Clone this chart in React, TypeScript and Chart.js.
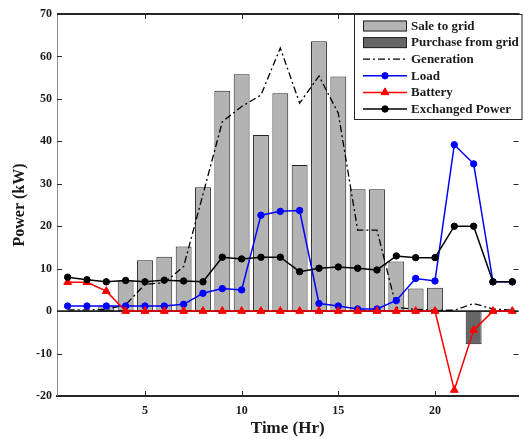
import React, { useEffect, useRef } from "react";
import { Chart, registerables } from "chart.js";

Chart.register(...registerables);

const hours = [1, 2, 3, 4, 5, 6, 7, 8, 9, 10, 11, 12, 13, 14, 15, 16, 17, 18, 19, 20, 21, 22, 23, 24];
const saleToGrid = [null, null, 1.3, 7.2, 12.0, 12.8, 15.2, 29.2, 51.9, 55.8, 41.5, 51.3, 34.4, 63.6, 55.3, 28.7, 28.7, 11.7, 5.3, 5.5, null, null, null, null];
const purchaseFromGrid = [null, null, null, null, null, null, null, null, null, null, null, null, null, null, null, null, null, null, null, null, null, -7.8, null, null];
const generation = [0.3, 0.3, 0.4, 1.5, 6.3, 6.7, 10.5, 27.5, 44.6, 48.2, 50.9, 62.0, 49.0, 55.4, 46.6, 19.1, 19.1, 0.9, 0.4, 0.2, 0.2, 1.8, 0.5, 0.2];
const load = [1.2, 1.2, 1.2, 1.2, 1.2, 1.2, 1.6, 4.2, 5.3, 5.0, 22.6, 23.5, 23.7, 1.8, 1.2, 0.5, 0.5, 2.5, 7.7, 7.1, 39.2, 34.7, 6.9, 6.9];
const battery = [6.8, 6.8, 4.7, 0, 0, 0, 0, 0, 0, 0, 0, 0, 0, 0, 0, 0, 0, 0, 0, 0, -18.6, -4.5, 0, 0];
const exchanged = [8.0, 7.4, 6.9, 7.2, 6.9, 7.3, 7.1, 6.9, 12.7, 12.3, 12.7, 12.7, 9.3, 10.1, 10.4, 10.1, 9.7, 13.0, 12.6, 12.6, 20.0, 20.0, 6.9, 6.9];
const xTicks = [5, 10, 15, 20];
const legendLabels = ["Sale to grid", "Purchase from grid", "Generation", "Load", "Battery", "Exchanged Power"];

const FONT = "'Liberation Serif', 'Times New Roman', serif";
const INK = "#1a1a1a";
const DASHDOT = [7, 3, 2, 3];

const pts = (arr: (number | null)[]) => hours.map((h, i) => ({ x: h, y: arr[i] }));

function drawTri(ctx: CanvasRenderingContext2D, x: number, y: number, r: number, color: string) {
  ctx.beginPath();
  ctx.moveTo(x, y - r);
  ctx.lineTo(x + 0.866 * r, y + 0.5 * r);
  ctx.lineTo(x - 0.866 * r, y + 0.5 * r);
  ctx.closePath();
  ctx.fillStyle = color;
  ctx.fill();
  ctx.strokeStyle = color;
  ctx.lineWidth = 1;
  ctx.stroke();
}

function drawCircle(ctx: CanvasRenderingContext2D, x: number, y: number, r: number, color: string) {
  ctx.beginPath();
  ctx.arc(x, y, r, 0, Math.PI * 2);
  ctx.fillStyle = color;
  ctx.fill();
  ctx.strokeStyle = color;
  ctx.lineWidth = 1;
  ctx.stroke();
}

const decor = {
  id: "decor",
  afterDatasetDraw(chart: any, args: any) {
    if (args.index !== 1) return;
    const { ctx, chartArea } = chart;
    const y0 = chart.scales.y.getPixelForValue(0);
    ctx.save();
    ctx.strokeStyle = "#222";
    ctx.lineWidth = 1.6;
    ctx.beginPath();
    ctx.moveTo(chartArea.left, y0);
    ctx.lineTo(chartArea.right, y0);
    ctx.stroke();
    ctx.restore();
  },
  afterDraw(chart: any) {
    const { ctx, chartArea } = chart;
    const { left, right, top, bottom } = chartArea;
    const xs = chart.scales.x;
    const ys = chart.scales.y;
    ctx.save();
    // top border
    ctx.strokeStyle = "#262626";
    ctx.lineWidth = 2;
    ctx.beginPath();
    ctx.moveTo(left, top);
    ctx.lineTo(right + 1, top);
    ctx.stroke();
    // tick marks (inside)
    ctx.lineWidth = 1;
    ctx.strokeStyle = "#262626";
    const tl = 5;
    xTicks.forEach((v) => {
      const px = Math.round(xs.getPixelForValue(v)) + 0.5;
      ctx.beginPath();
      ctx.moveTo(px, bottom);
      ctx.lineTo(px, bottom - tl);
      ctx.moveTo(px, top);
      ctx.lineTo(px, top + tl);
      ctx.stroke();
    });
    ys.ticks.forEach((t: any) => {
      const py = Math.round(ys.getPixelForValue(t.value)) + 0.5;
      ctx.beginPath();
      ctx.moveTo(left, py);
      ctx.lineTo(left + tl, py);
      ctx.moveTo(right, py);
      ctx.lineTo(right - tl, py);
      ctx.stroke();
    });
    // legend
    const bx = 354.5, by = top, bw = 167.5, bh = 105;
    ctx.fillStyle = "#ffffff";
    ctx.fillRect(bx, by, bw, bh);
    ctx.strokeStyle = "#262626";
    ctx.lineWidth = 1;
    ctx.strokeRect(bx, by + 0.5, bw, bh);
    const x1 = 363, x2 = 407, xm = (x1 + x2) / 2;
    const rowY = (i: number) => 26 + i * 16.6;
    [["#b3b3b3", 0], ["#666666", 1]].forEach(([c, i]: any) => {
      const cy = rowY(i);
      ctx.fillStyle = c;
      ctx.fillRect(x1, cy - 5.5, x2 - x1, 11);
      ctx.strokeStyle = "#222";
      ctx.strokeRect(x1 + 0.5, cy - 5.5 + 0.5, x2 - x1 - 1, 10);
    });
    ctx.setLineDash(DASHDOT);
    ctx.strokeStyle = "#000";
    ctx.lineWidth = 1.3;
    ctx.beginPath();
    ctx.moveTo(x1, rowY(2));
    ctx.lineTo(x2, rowY(2));
    ctx.stroke();
    ctx.setLineDash([]);
    const lineRow = (i: number, color: string, marker: string) => {
      ctx.strokeStyle = color;
      ctx.lineWidth = 1.5;
      ctx.beginPath();
      ctx.moveTo(x1, rowY(i));
      ctx.lineTo(x2, rowY(i));
      ctx.stroke();
      if (marker === "circle") drawCircle(ctx, xm, rowY(i), 3.2, color);
      else drawTri(ctx, xm, rowY(i), 4.5, color);
    };
    lineRow(3, "#0000ff", "circle");
    lineRow(4, "#ff0000", "tri");
    lineRow(5, "#000000", "circle");
    ctx.fillStyle = INK;
    ctx.font = `bold 13px ${FONT}`;
    ctx.textBaseline = "middle";
    ctx.textAlign = "left";
    legendLabels.forEach((lab, i) => ctx.fillText(lab, 411, rowY(i) + 0.5));
    ctx.restore();
  },
};

export default function App() {
  const ref = useRef<HTMLCanvasElement | null>(null);
  useEffect(() => {
    if (!ref.current) return;
    const barCommon = {
      type: "bar" as const,
      grouped: false,
      borderWidth: 1,
      borderColor: "#222",
      borderSkipped: false,
      categoryPercentage: 1,
      barPercentage: 0.82,
    };
    const chart = new Chart(ref.current, {
      type: "bar",
      data: {
        datasets: [
          { ...barCommon, label: legendLabels[0], data: pts(saleToGrid), backgroundColor: "#b3b3b3", order: 6 },
          { ...barCommon, label: legendLabels[1], data: pts(purchaseFromGrid), backgroundColor: "#666666", order: 5 },
          {
            type: "line", label: legendLabels[2], data: pts(generation), borderColor: "#000", borderWidth: 1.3,
            borderDash: DASHDOT, pointRadius: 0, tension: 0, order: 4, fill: false,
          },
          {
            type: "line", label: legendLabels[3], data: pts(load), borderColor: "#0000ff", backgroundColor: "#0000ff",
            borderWidth: 1.5, pointRadius: 3.2, pointBorderWidth: 1, pointStyle: "circle", tension: 0, order: 3, fill: false,
          },
          {
            type: "line", label: legendLabels[4], data: pts(battery), borderColor: "#ff0000", backgroundColor: "#ff0000",
            borderWidth: 1.5, pointRadius: 4.5, pointBorderWidth: 1, pointStyle: "triangle", tension: 0, order: 2, fill: false,
          },
          {
            type: "line", label: legendLabels[5], data: pts(exchanged), borderColor: "#000000", backgroundColor: "#000000",
            borderWidth: 1.5, pointRadius: 3.2, pointBorderWidth: 1, pointStyle: "circle", tension: 0, order: 1, fill: false,
          },
        ] as any,
      },
      options: {
        responsive: false,
        animation: false,
        devicePixelRatio: 1,
        layout: { padding: { left: 0, right: 1, top: 14, bottom: 0 } },
        plugins: { legend: { display: false }, tooltip: { enabled: false } },
        scales: {
          x: {
            type: "linear",
            min: 0.45,
            max: 24.32,
            offset: false,
            afterBuildTicks: (s: any) => {
              s.ticks = xTicks.map((v) => ({ value: v }));
            },
            afterFit: (s: any) => {
              s.height = 43;
            },
            grid: { display: false, drawTicks: false },
            border: { display: true, color: "#262626", width: 2 },
            ticks: { font: { family: FONT, size: 12, weight: "bold" }, color: INK, padding: 8, maxRotation: 0 },
            title: {
              display: true, text: "Time (Hr)", color: INK,
              font: { family: FONT, size: 17, weight: "bold" }, padding: { top: 0, bottom: 0 },
            },
          },
          y: {
            type: "linear",
            min: -20,
            max: 70,
            afterFit: (s: any) => {
              s.width = 57;
            },
            grid: { display: false, drawTicks: false },
            border: { display: true, color: "#8c8c8c", width: 1 },
            ticks: { stepSize: 10, font: { family: FONT, size: 12, weight: "bold" }, color: INK, padding: 5 },
            title: {
              display: true, text: "Power (kW)", color: INK,
              font: { family: FONT, size: 16, weight: "bold" }, padding: { top: 10, bottom: 0 },
            },
          },
        },
      } as any,
      plugins: [decor],
    });
    return () => chart.destroy();
  }, []);
  return (
    <div style={{ position: "absolute", left: 0, top: 0, width: 524, height: 439, background: "#fff" }}>
      <canvas ref={ref} width={524} height={439} style={{ display: "block" }} />
    </div>
  );
}
